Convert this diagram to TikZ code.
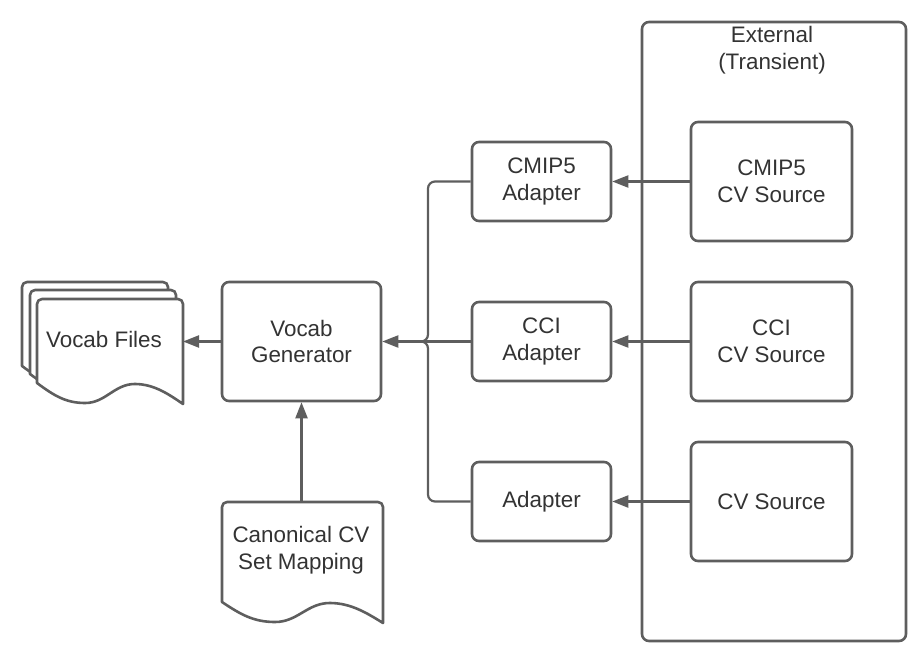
\documentclass[tikz,border=0pt]{standalone}
\usepackage{fontspec}
\setmainfont{Liberation Sans}
\usetikzlibrary{arrows.meta}
\definecolor{linec}{HTML}{5E5E5E}
\definecolor{textc}{HTML}{333333}
\tikzset{
  lbl/.style={text=textc, font=\fontsize{22.4}{26.5}\selectfont, align=center, inner sep=0pt},
  box/.style={lbl, draw=linec, line width=2.6pt, rounded corners=7pt, fill=white},
  conn/.style={draw=linec, line width=2.2pt, -{Triangle[length=16pt,width=12pt]}},
  docst/.style={draw=linec, line width=2.6pt, fill=white, line join=round},
}
\newcommand\docsheet[4]{%
  \draw[docst] (#1,#2+#4) [rounded corners=5pt] -- (#1,#2) -- (#1+#3,#2) [sharp corners] -- (#1+#3,#2+#4+21)
    .. controls (#1+0.9*#3,#2+#4+11) and (#1+0.8*#3,#2+#4+1) .. (#1+0.67*#3,#2+#4+1)
    .. controls (#1+0.53*#3,#2+#4+1) and (#1+0.47*#3,#2+#4+20) .. (#1+0.33*#3,#2+#4+20)
    .. controls (#1+0.2*#3,#2+#4+20) and (#1+0.12*#3,#2+#4+13) .. (#1,#2+#4) -- cycle;}
\begin{document}
\begin{tikzpicture}[x=1pt,y=-1pt]
\useasboundingbox (0,0) rectangle (923,663);
% external container
\node[box, minimum width=264, minimum height=619] (ext) at (774,331.5) {};
\node[lbl] (extlbl) at (772,50) {External\\(Transient)};
% sources
\node[box, minimum width=161, minimum height=119] (src1) at (771.5,181.5) {CMIP5\\CV Source};
\node[box, minimum width=161, minimum height=119] (src2) at (771.5,341.5) {CCI\\CV Source};
\node[box, minimum width=161, minimum height=119] (src3) at (771.5,501.5) {CV Source};
% adapters
\node[box, minimum width=139, minimum height=79] (ad1) at (541.5,181.5) {CMIP5\\Adapter};
\node[box, minimum width=139, minimum height=79] (ad2) at (541.5,341.5) {CCI\\Adapter};
\node[box, minimum width=139, minimum height=79] (ad3) at (541.5,501.5) {Adapter};
% generator
\node[box, minimum width=159, minimum height=119] (gen) at (301.5,341.5) {Vocab\\Generator};
% vocab files
\docsheet{22}{282}{146}{84}
\docsheet{30}{290}{146}{84}
\docsheet{37}{299}{146}{84}
\node[lbl] (files) at (104,339) {Vocab Files};
\coordinate (filesR) at (183,341.5);
% canonical mapping
\docsheet{222}{502}{161}{100}
\node[lbl] (canon) at (301,550) {Canonical CV\\Set Mapping};
\coordinate (canonT) at (301.5,502);
% connectors
\draw[conn] (src1.west) -- (ad1.east);
\draw[conn] (src2.west) -- (ad2.east);
\draw[conn] (src3.west) -- (ad3.east);
\coordinate (j) at (428,341.5);
\draw[draw=linec, line width=2.2pt, rounded corners=7pt] (ad1.west) -| (j) -- ++(-8,0);
\draw[draw=linec, line width=2.2pt, rounded corners=7pt] (ad3.west) -| (j) -- ++(-8,0);
\draw[conn] (ad2.west) -- (gen.east);
\draw[conn] (canonT) -- (gen.south);
\draw[conn] (gen.west) -- (filesR);
\end{tikzpicture}
\end{document}
